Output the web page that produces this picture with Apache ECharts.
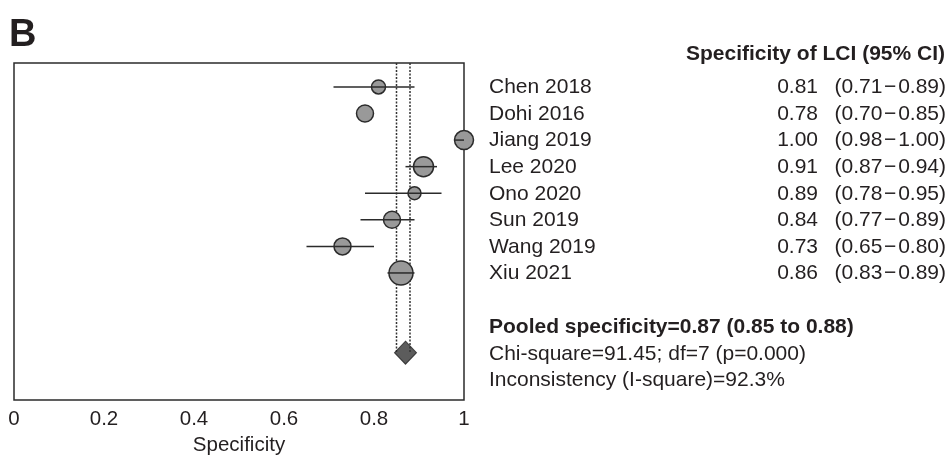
<!DOCTYPE html>
<html>
<head>
<meta charset="utf-8">
<script src="https://cdn.jsdelivr.net/npm/echarts@6/dist/echarts.min.js"></script>
<style>
  html, body { margin: 0; padding: 0; background: #fff; }
  #chart { width: 949px; height: 459px; }
</style>
</head>
<body>
<div id="chart"></div>
<script>
// ==================== DATA ====================
const studies   = ['Chen 2018', 'Dohi 2016', 'Jiang 2019', 'Lee 2020', 'Ono 2020', 'Sun 2019', 'Wang 2019', 'Xiu 2021'];
const spec      = [0.81, 0.78, 1.00, 0.91, 0.89, 0.84, 0.73, 0.86];
const ciLow     = [0.71, 0.70, 0.98, 0.87, 0.78, 0.77, 0.65, 0.83];
const ciHigh    = [0.89, 0.85, 1.00, 0.94, 0.95, 0.89, 0.80, 0.89];
const ciDrawn   = [true, false, true, true, true, true, true, true]; // Dohi bar not drawn in figure
const weightPx  = [14, 17, 19, 20, 13, 17, 17, 24];               // marker size ~ study weight
const pooled    = { est: 0.87, lo: 0.85, hi: 0.88 };
const xTicks    = [0, 0.2, 0.4, 0.6, 0.8, 1];
const statLines = ['Chi-square=91.45; df=7 (p=0.000)', 'Inconsistency (I-square)=92.3%'];

const POOLED_ROW = 11;
const fmt2 = v => v.toFixed(2);

const chart = echarts.init(document.getElementById('chart'));
const textC = '#231f20';
const font = '"Liberation Sans", Arial, sans-serif';
const f21 = '21px ' + font;

// right-hand table as graphic text
const rowY = i => 87 + i * 26.6;
const tableTexts = [];
studies.forEach((s, i) => {
  tableTexts.push({ type: 'text', left: 489, top: rowY(i) - 10, style: { text: s, font: f21, fill: textC } });
  tableTexts.push({ type: 'text', right: 949 - 818, top: rowY(i) - 10, style: { text: fmt2(spec[i]), font: f21, fill: textC } });
  tableTexts.push({ type: 'text', right: 3, top: rowY(i) - 10, style: { text: '(' + fmt2(ciLow[i]) + '\u200A\u2212\u200A' + fmt2(ciHigh[i]) + ')', font: f21, fill: textC } });
});

chart.setOption({
  backgroundColor: '#fff',
  animation: false,
  grid: { left: 14, right: 485, top: 63, bottom: 59, outerBoundsMode: 'none', show: true, borderColor: '#2b2b2b', borderWidth: 1.5, backgroundColor: 'transparent' },
  xAxis: {
    type: 'value', min: 0, max: 1, interval: 0.2,
    axisLine: { show: false }, axisTick: { show: false }, splitLine: { show: false },
    axisLabel: { color: textC, fontSize: 20.5, fontFamily: font, margin: 9, formatter: v => xTicks.includes(+v.toFixed(1)) ? String(+v.toFixed(1)) : '' },
    name: 'Specificity', nameLocation: 'middle', nameGap: 29,
    nameTextStyle: { color: textC, fontSize: 20.5, fontFamily: font }
  },
  yAxis: { type: 'value', inverse: true, min: 0.1, max: 12.78, show: false },
  graphic: [
    { type: 'text', left: 9, top: 17, style: { text: 'B', font: 'bold 38px ' + font, fill: textC } },
    { type: 'text', right: 4, top: 44, style: { text: 'Specificity of LCI (95% CI)', font: 'bold ' + f21, fill: textC } },
    ...tableTexts,
    { type: 'text', left: 489, top: 317, style: { text: 'Pooled specificity=' + fmt2(pooled.est) + ' (' + fmt2(pooled.lo) + ' to ' + fmt2(pooled.hi) + ')', font: 'bold ' + f21, fill: textC } },
    { type: 'text', left: 489, top: 344, style: { text: statLines[0], font: f21, fill: textC } },
    { type: 'text', left: 489, top: 370, style: { text: statLines[1], font: f21, fill: textC } }
  ],
  series: [
    { // pooled CI dotted lines
      type: 'custom', z: 1, clip: false,
      data: [[pooled.lo], [pooled.hi]],
      renderItem: (params, api) => {
        const a = api.coord([api.value(0), 0.1]);
        const b = api.coord([api.value(0), POOLED_ROW]);
        return { type: 'line', shape: { x1: a[0], y1: a[1], x2: b[0], y2: b[1] }, style: { stroke: '#333', lineWidth: 1.5, lineDash: [2, 1.5] } };
      }
    },
    { // study estimates
      type: 'scatter', z: 2, clip: false,
      data: spec.map((v, i) => ({ value: [v, i + 1], symbolSize: weightPx[i] })),
      itemStyle: { color: '#999999', borderColor: '#2b2b2b', borderWidth: 1.5, opacity: 1 }
    },
    { // confidence intervals
      type: 'custom', z: 3, clip: false,
      data: studies.map((s, i) => [ciLow[i], ciHigh[i], i + 1, ciDrawn[i] ? 1 : 0]),
      renderItem: (params, api) => {
        if (!api.value(3)) return null;
        const a = api.coord([api.value(0), api.value(2)]);
        const b = api.coord([api.value(1), api.value(2)]);
        return { type: 'line', shape: { x1: a[0], y1: a[1], x2: b[0], y2: b[1] }, style: { stroke: '#2b2b2b', lineWidth: 1.5 } };
      }
    },
    { // pooled estimate
      type: 'scatter', z: 4, clip: false, symbol: 'diamond', symbolSize: [22, 23],
      data: [[pooled.est, POOLED_ROW]],
      itemStyle: { color: '#333333', borderColor: '#222', borderWidth: 1 }
    }
  ]
});
</script>
</body>
</html>
